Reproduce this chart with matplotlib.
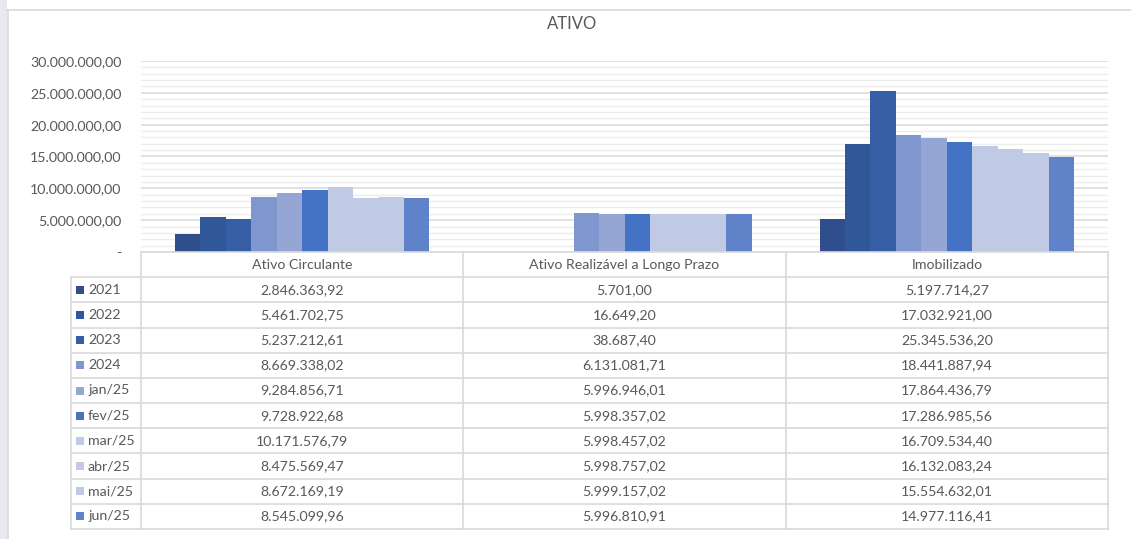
import matplotlib
matplotlib.use("Agg")
import matplotlib.pyplot as plt
from matplotlib.transforms import blended_transform_factory
from matplotlib.lines import Line2D
from matplotlib.patches import Rectangle
from matplotlib.ticker import MultipleLocator, FuncFormatter

plt.rcParams['font.family'] = ['Lato', 'DejaVu Sans']

categories = ["Ativo Circulante", "Ativo Realizável a Longo Prazo", "Imobilizado"]
series_labels = ["2021", "2022", "2023", "2024", "jan/25", "fev/25", "mar/25", "abr/25", "mai/25", "jun/25"]
values = [
    [2846363.92, 5701.00, 5197714.27],
    [5461702.75, 16649.20, 17032921.00],
    [5237212.61, 38687.40, 25345536.20],
    [8669338.02, 6131081.71, 18441887.94],
    [9284856.71, 5996946.01, 17864436.79],
    [9728922.68, 5998357.02, 17286985.56],
    [10171576.79, 5998457.02, 16709534.40],
    [8475569.47, 5998757.02, 16132083.24],
    [8672169.19, 5999157.02, 15554632.01],
    [8545099.96, 5996810.91, 14977116.41],
]
colors = ["#2F4E8B", "#305797", "#355EA4", "#7F96CE", "#95A6D4", "#4472C4",
          "#C1CAE4", "#C1CAE4", "#C1CAE4", "#6082C9"]

TXT = "#595959"
GRID = "#D9D9D9"
W, H = 1131, 539
FS = 10.2


def br(v):
    s = f"{v:,.2f}"
    return s.replace(",", "X").replace(".", ",").replace("X", ".")


fig = plt.figure(figsize=(W / 100, H / 100), dpi=100)
fig.patch.set_facecolor("white")

# left pale band and chart border
fig.add_artist(Rectangle((0, 0), 7 / W, 1, transform=fig.transFigure,
                         facecolor="#E8E8F0", edgecolor="none"))
fig.add_artist(Line2D([7 / W, 1], [1 - 9.5 / H, 1 - 9.5 / H], transform=fig.transFigure,
                      color=GRID, lw=1.2))
fig.add_artist(Line2D([7.5 / W, 7.5 / W], [0, 1 - 9.5 / H], transform=fig.transFigure,
                      color=GRID, lw=1.2))

left, right = 141 / W, 1108 / W
top, bottom = 1 - 61 / H, 1 - 252 / H
ax = fig.add_axes([left, bottom, right - left, top - bottom])

ncat = len(categories)
nser = len(series_labels)
group = 0.79
bw = group / nser
for j, (lab, col) in enumerate(zip(series_labels, colors)):
    xs = [i + 0.5 + (j - (nser - 1) / 2) * bw for i in range(ncat)]
    ax.bar(xs, values[j], width=bw, color=col, label=lab, zorder=3, linewidth=0)

ax.set_xlim(0, ncat)
ax.set_ylim(0, 30000000)
ax.yaxis.set_major_locator(MultipleLocator(5000000))
ax.yaxis.set_minor_locator(MultipleLocator(1000000))
ax.yaxis.set_major_formatter(FuncFormatter(lambda v, p: "-" if v == 0 else br(v)))
ax.grid(axis="y", which="major", color=GRID, lw=1.1, zorder=0)
ax.grid(axis="y", which="minor", color="#EDEDED", lw=1.0, zorder=0)
ax.set_xticks([])
ax.tick_params(axis="y", which="both", length=0, pad=14, labelsize=FS, labelcolor=TXT)
for s in ax.spines.values():
    s.set_visible(False)

# title
fig.text(572 / W, 1 - 24 / H, "ATIVO", ha="center", va="center", fontsize=12, color=TXT)

# data table
blend = blended_transform_factory(ax.transData, fig.transFigure)
t0, t1 = 252, 529
nrows = nser + 1
rh = (t1 - t0) / nrows
legx = (70.7 - 141) / 322.3


def fy(py):
    return 1 - py / H


for k in range(nrows + 1):
    y = fy(t0 + k * rh)
    x0 = 0 if k == 0 else legx
    fig.add_artist(Line2D([x0, ncat], [y, y], transform=blend, color=GRID, lw=1.2))
for i in range(ncat + 1):
    fig.add_artist(Line2D([i, i], [fy(t0), fy(t1)], transform=blend, color=GRID, lw=1.2))
fig.add_artist(Line2D([legx, legx], [fy(t0 + rh), fy(t1)], transform=blend, color=GRID, lw=1.2))

for i, c in enumerate(categories):
    fig.text(i + 0.5, fy(t0 + rh / 2), c, transform=blend, ha="center", va="center",
             fontsize=FS, color=TXT)

sq = 8
for j, lab in enumerate(series_labels):
    yc = t0 + rh * (j + 1.5)
    fig.add_artist(Rectangle(((76) / W, fy(yc + sq / 2)), sq / W, sq / H,
                             transform=fig.transFigure, facecolor=colors[j], edgecolor="none"))
    fig.text(88 / W, fy(yc), lab, ha="left", va="center", fontsize=FS, color=TXT)
    for i in range(ncat):
        fig.text(i + 0.5, fy(yc), br(values[j][i]), transform=blend, ha="center",
                 va="center", fontsize=FS, color=TXT)

fig.savefig("out.png", dpi=100, facecolor="white")
